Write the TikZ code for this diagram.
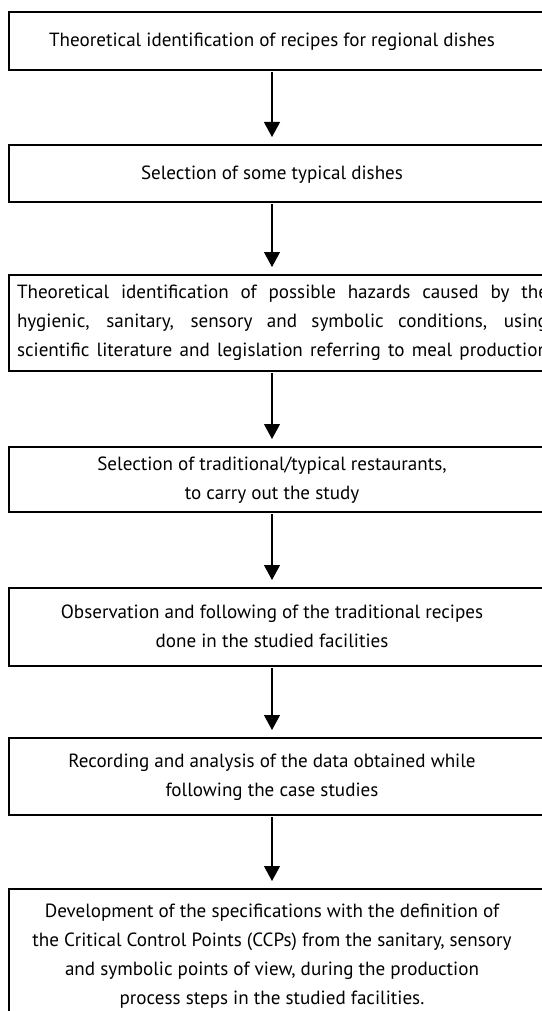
\documentclass[tikz,border=0pt]{standalone}
\usepackage{fontspec}
\setmainfont{PT Sans}
\usetikzlibrary{positioning,arrows.meta}
\newcommand{\steplines}[1]{\begin{tabular}{@{}c@{\hspace{21pt}}}#1\end{tabular}}
\begin{document}
\begin{tikzpicture}[x=1pt,y=-1pt,inner sep=0pt,outer sep=0pt,line width=1.1pt,
stepblock/.style={draw,rectangle,minimum width=547pt,font=\fontsize{19.1}{29}\selectfont},
flow/.style={-{Triangle[width=16pt,length=15pt]},shorten <=2pt,shorten >=8pt}]
\useasboundingbox (0,0) rectangle (541,1011);
\coordinate (ax) at (272,0);
\node[stepblock,minimum height=58pt,anchor=north west] (R) at (9,12) {\steplines{Theoretical identification of recipes for regional dishes}};
\node[stepblock,minimum height=57pt,below=75pt of R] (D) {\steplines{Selection of some typical dishes}};
\node[stepblock,minimum height=96pt,below=73pt of D] (H) {\parbox{531pt}{\parfillskip=0pt
Theoretical identification of possible hazards caused by the\linebreak
hygienic, sanitary, sensory and symbolic conditions, using\linebreak
scientific literature and legislation referring to meal production}};
\node[stepblock,minimum height=65pt,below=76pt of H] (S) {\steplines{Selection of traditional/typical restaurants,\\ to carry out the study}};
\node[stepblock,minimum height=78pt,below=76pt of S] (O) {\steplines{Observation and following of the traditional recipes\\ done in the studied facilities}};
\node[stepblock,minimum height=77pt,below=72pt of O] (A) {\steplines{Recording and analysis of the data obtained while\\ following the case studies}};
\node[stepblock,minimum height=133pt,below=74pt of A] (C) {\steplines{Development of the specifications with the definition of\\
the Critical Control Points (CCPs) from the sanitary, sensory\\
and symbolic points of view, during the production\\
process steps in the studied facilities.}};
\foreach \a/\b in {R/D,D/H,H/S,S/O,O/A,A/C}
  \draw[flow] (\a.south -| ax) -- (\b.north -| ax);
\end{tikzpicture}
\end{document}
